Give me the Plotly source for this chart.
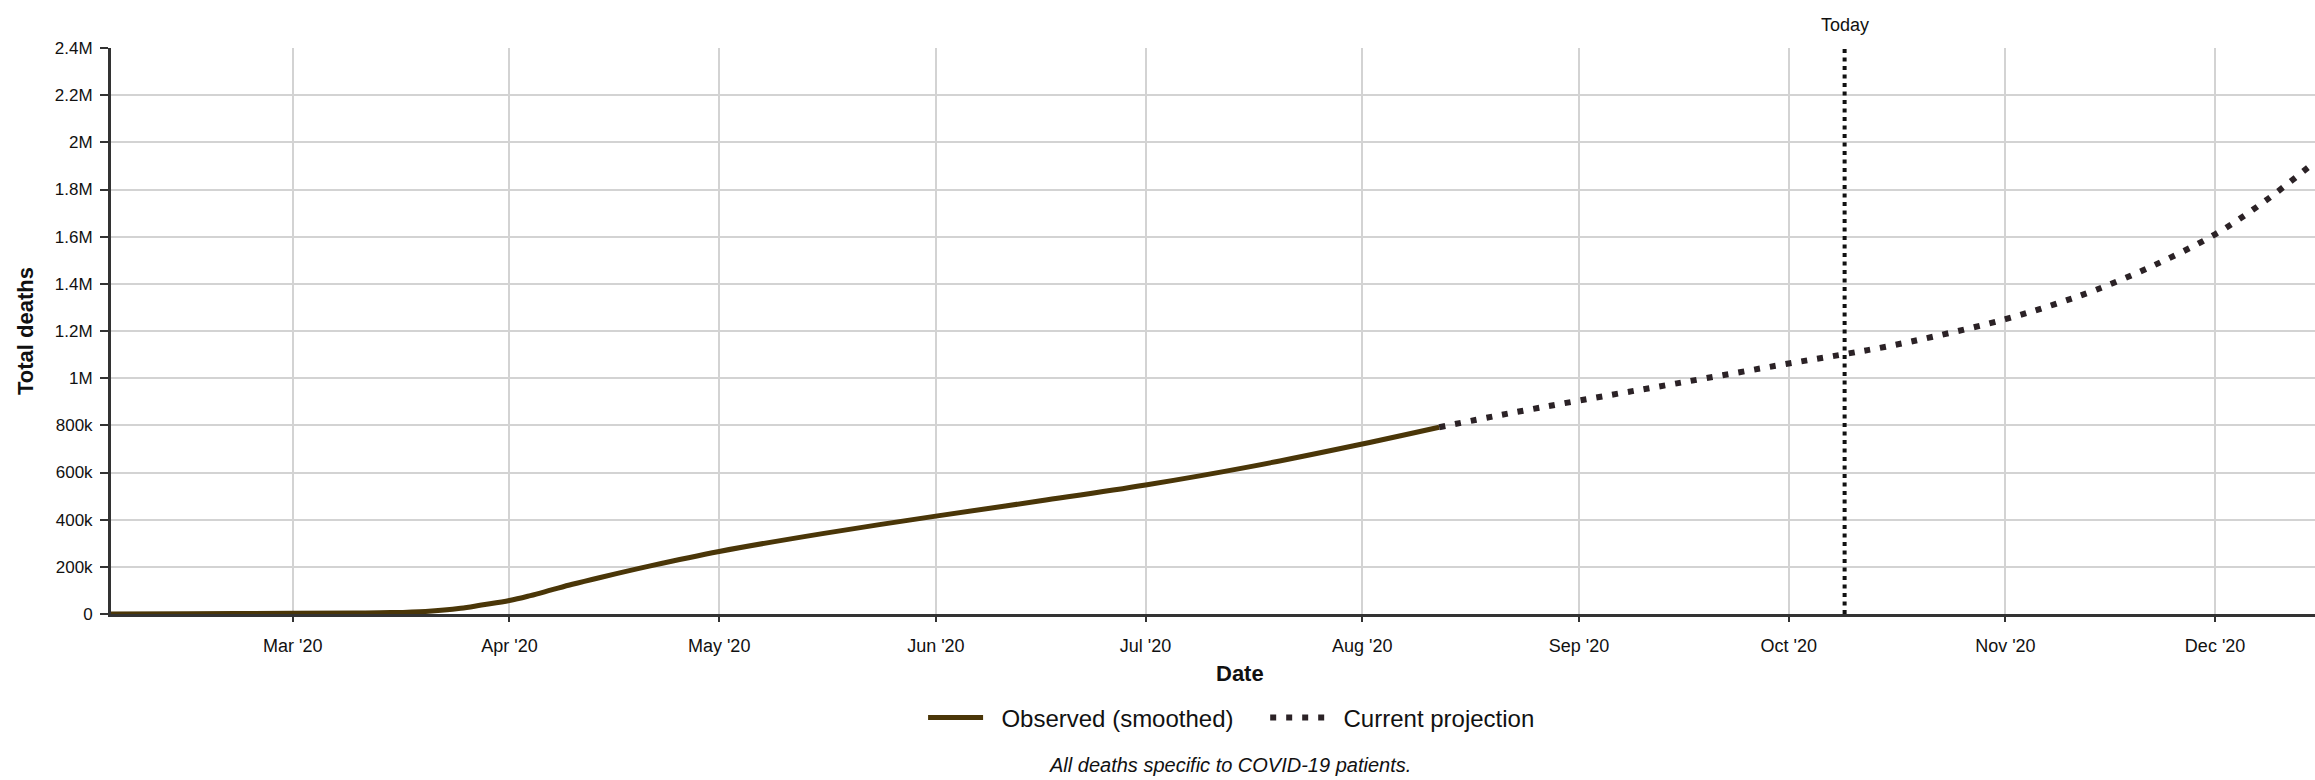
import plotly.graph_objects as go

# ---- data ----
observed_dates = ["2020-02-04", "2020-02-15", "2020-03-01", "2020-03-10", "2020-03-15",
                  "2020-03-20", "2020-03-25", "2020-03-28", "2020-04-01", "2020-04-04",
                  "2020-04-07", "2020-04-10", "2020-04-14", "2020-04-21", "2020-05-01",
                  "2020-05-16", "2020-06-01", "2020-06-16", "2020-07-01", "2020-07-16",
                  "2020-08-01", "2020-08-12"]
observed_values = [500, 1500, 3000, 4500, 6000,
                   11000, 24000, 38000, 57000, 78000,
                   102000, 126000, 155000, 203000, 265000,
                   342000, 415000, 480000, 547000, 625000,
                   721000, 792000]

projection_dates = ["2020-08-12", "2020-08-21", "2020-09-01", "2020-09-15", "2020-10-01",
                    "2020-10-09", "2020-10-15", "2020-10-22", "2020-11-01", "2020-11-08",
                    "2020-11-14", "2020-11-22", "2020-12-01", "2020-12-08", "2020-12-15"]
projection_values = [792000, 845000, 905000, 978000, 1062000,
                     1102000, 1134000, 1178000, 1250000, 1313000,
                     1375000, 1475000, 1610000, 1748000, 1910000]

today_date = "2020-10-09"
x_range = ["2020-02-04", "2020-12-15 07:00"]
y_range = [0, 2400000]

FONT = "Liberation Sans, Arial, sans-serif"
TEXT = "#111111"
NB = "\u00a0"

fig = go.Figure()
fig.add_trace(go.Scatter(
    x=observed_dates, y=observed_values, mode="lines",
    name=NB * 2 + "Observed (smoothed)" + NB * 4,
    line=dict(color="#4a3608", width=5, shape="spline", smoothing=1.0),
    hoverinfo="skip",
))
fig.add_trace(go.Scatter(
    x=projection_dates, y=projection_values, mode="lines",
    name=NB * 2 + "Current projection",
    line=dict(color="#2b2226", width=6, dash="6px,10px", shape="spline", smoothing=1.0),
    hoverinfo="skip",
))

# Today marker
fig.add_shape(type="line", xref="x", yref="paper", x0=today_date, x1=today_date, y0=0, y1=1,
              line=dict(color="#111111", width=4, dash="4px,4.5px"), layer="above")
fig.add_annotation(x=today_date, xref="x", y=1, yref="paper", text="Today", showarrow=False,
                   yanchor="middle", yshift=23, font=dict(family=FONT, size=18, color=TEXT))

# Axis titles and caption
fig.add_annotation(x=-0.039, xref="paper", y=0.5, yref="paper", text="<b>Total deaths</b>",
                   textangle=-90, showarrow=False, xanchor="center", yanchor="middle",
                   font=dict(family=FONT, size=22, color=TEXT))
fig.add_annotation(x=0.5122, xref="paper", y=-0.106, yref="paper", text="<b>Date</b>",
                   showarrow=False, xanchor="center", yanchor="middle",
                   font=dict(family=FONT, size=22, color=TEXT))
fig.add_annotation(x=0.5077, xref="paper", y=-0.266, yref="paper",
                   text="<i>All deaths specific to COVID-19 patients.</i>",
                   showarrow=False, xanchor="center", yanchor="middle",
                   font=dict(family=FONT, size=20, color=TEXT))

fig.update_layout(
    width=2315, height=780,
    margin=dict(l=111, r=0, t=48, b=166),
    paper_bgcolor="white", plot_bgcolor="white",
    font=dict(family=FONT, color=TEXT),
    showlegend=True,
    legend=dict(orientation="h", xref="container", yref="container",
                x=0.532, y=0.0795, xanchor="center", yanchor="middle",
                font=dict(family=FONT, size=24, color=TEXT),
                itemwidth=55, bgcolor="rgba(0,0,0,0)"),
    xaxis=dict(
        type="date", range=x_range,
        dtick="M1", tick0="2020-01-01", tickformat="%b '%y",
        showgrid=True, gridcolor="#d3d3d3", gridwidth=2,
        showline=True, linecolor="#333333", linewidth=3,
        ticks="outside", ticklen=5, tickwidth=2, tickcolor="#333333",
        tickfont=dict(family=FONT, size=18, color=TEXT),
        ticklabelstandoff=8, zeroline=False,
    ),
    yaxis=dict(
        range=y_range, dtick=200000, tickformat="~s",
        showgrid=True, gridcolor="#d3d3d3", gridwidth=2,
        showline=True, linecolor="#333333", linewidth=3,
        ticks="outside", ticklen=8, tickwidth=2, tickcolor="#333333",
        tickfont=dict(family=FONT, size=17, color=TEXT),
        ticklabelstandoff=4, zeroline=False,
    ),
)

fig.write_html("out.html", config={"displayModeBar": False},
               post_script="document.body.style.margin='0px';document.body.style.overflow='hidden';")
